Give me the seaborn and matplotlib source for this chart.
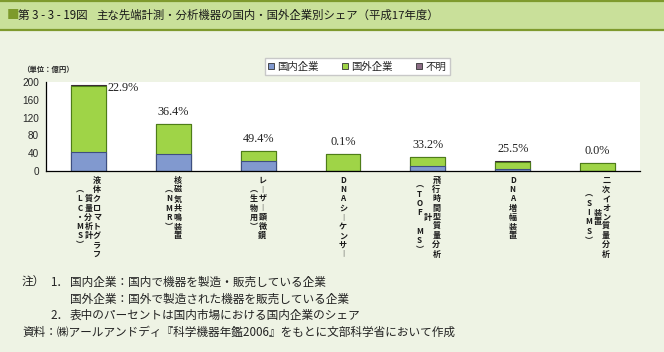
import numpy as np
import pandas as pd
import seaborn as sns
import matplotlib.pyplot as plt
from matplotlib.patches import Patch, Rectangle

# 先端計測・分析機器の国内市場規模（億円）
categories = ['LC/MS', 'NMR', 'Laser', 'DNA-seq', 'TOF-MS', 'DNA-amp', 'SIMS']
domestic = [43.5, 38.0, 22.0, 0.05, 10.4, 3.8, 0.0]
foreign = [147.5, 67.5, 23.0, 37.5, 20.6, 16.0, 18.0]
unknown = [2.5, 0.0, 0.0, 0.0, 0.0, 2.0, 0.0]
share_pct = [22.9, 36.4, 49.4, 0.1, 33.2, 25.5, 0.0]
legend_labels = ['国内企業', '国外企業', '不明']

# 縦書きのx軸ラベル（右の列から順に）
label_columns = [
    ['液体クロマトグラフ', '質量分析計', '︵LC・MS︶'],
    ['核磁気共鳴装置', '︵NMR︶'],
    ['レ︱ザ︱顕微鏡', '︵生物用︶'],
    ['DNAシ︱ケンサ︱'],
    ['飛行時間型質量分析', '計', '︵TOF MS︶'],
    ['DNA増幅装置'],
    ['二次イオン質量分析', '装置', '︵SIMS︶'],
]

title_head = '第 3 - 3 - 19図'
title_body = '主な先端計測・分析機器の国内・国外企業別シェア（平成17年度）'
note_lines = [
    [(22, '注）'), (50, '1．'), (70, '国内企業：国内で機器を製造・販売している企業')],
    [(70, '国外企業：国外で製造された機器を販売している企業')],
    [(50, '2．'), (70, '表中のパーセントは国内市場における国内企業のシェア')],
    [(22, '資料：㈱アールアンドディ『科学機器年鑑2006』をもとに文部科学省において作成')],
]

c_dom, c_for, c_unk = '#8199CF', '#9FD447', '#8C6E86'
e_dom, e_for, e_unk = '#3E4F80', '#4E7D18', '#3A2838'

sns.set_style('white')
plt.rcParams['font.family'] = ['Noto Sans CJK JP', 'DejaVu Sans']

W, H = 664, 352
fig = plt.figure(figsize=(W / 100, H / 100), dpi=100)
fig.patch.set_facecolor('#EEF3E4')

# タイトル帯
fig.add_artist(Rectangle((0, 1 - 31 / H), 1, 31 / H, transform=fig.transFigure,
                         facecolor='#C9E09A', edgecolor='none'))
for yy in (1 - 1 / H, 1 - 30 / H):
    fig.add_artist(plt.Line2D([0, 1], [yy, yy], transform=fig.transFigure,
                              color='#7F9A2E', lw=1.6))
fig.text(7 / W, 1 - 15.5 / H, '■', color='#7D9A2B', fontsize=9, va='center')
fig.text(18 / W, 1 - 15.5 / H, title_head, fontsize=8.3, va='center', color='#1a1a1a')
fig.text(96 / W, 1 - 15.5 / H, title_body, fontsize=8.2, va='center', color='#1a1a1a')

ax = fig.add_axes([46 / W, 1 - 171 / H, 594 / W, 89 / H])
ax.set_facecolor('white')

df = pd.DataFrame({'cat': categories, 'dom': domestic, 'for': foreign, 'unk': unknown})
df['lvl_for'] = df['dom'] + df['for']
df['lvl_all'] = df['lvl_for'] + df['unk']

# 積み上げ：合計から順に重ねて描く
sns.barplot(data=df, x='cat', y='lvl_all', color=c_unk, edgecolor=e_unk,
            linewidth=0.8, width=0.41, saturation=1, ax=ax)
sns.barplot(data=df, x='cat', y='lvl_for', color=c_for, edgecolor=e_for,
            linewidth=0.8, width=0.41, saturation=1, ax=ax)
sns.barplot(data=df, x='cat', y='dom', color=c_dom, edgecolor=e_dom,
            linewidth=0.8, width=0.41, saturation=1, ax=ax)

ax.set_ylim(0, 200)
ax.set_xlim(-0.5, len(categories) - 0.5)
ax.set_yticks(np.arange(0, 201, 40))
ax.set_yticklabels([str(v) for v in range(0, 201, 40)], fontfamily='Liberation Sans', fontsize=7.2)
ax.set_xticks(range(len(categories)))
ax.set_xticklabels([''] * len(categories))
ax.set_xticks(np.arange(0.5, len(categories), 1), minor=True)
ax.tick_params(axis='x', which='major', length=0)
ax.tick_params(axis='x', which='minor', direction='in', length=3, width=0.8, color='black')
ax.tick_params(axis='y', direction='in', length=3, width=0.8, color='black', pad=5)
ax.set_xlabel('')
ax.set_ylabel('')
for s in ('top', 'right'):
    ax.spines[s].set_visible(False)
for s in ('left', 'bottom'):
    ax.spines[s].set_color('black')
    ax.spines[s].set_linewidth(0.9)

# シェアの数値ラベル
for i, (tot, p) in enumerate(zip(df['lvl_all'], share_pct)):
    if tot > 170:
        ax.annotate(f'{p:.1f}%', xy=(i + 0.205, tot), xytext=(1.5, -2),
                    textcoords='offset points', ha='left', va='center',
                    fontfamily='Liberation Serif', fontsize=8.8, color='#222222')
    else:
        ax.annotate(f'{p:.1f}%', xy=(i, tot), xytext=(0, 8.6),
                    textcoords='offset points', ha='center', va='center',
                    fontfamily='Liberation Serif', fontsize=8.8, color='#222222')

# 縦書きラベル
px = 0.72
gap, pitch, top = 8.5 * px, 9.2 * px, 9.5 * px
for i, cols in enumerate(label_columns):
    n = len(cols)
    mid = (len(cols[0]) - 1) / 2
    for j, col in enumerate(cols):
        dx = ((n - 1) / 2 - j) * gap
        for k, ch in enumerate(col):
            if ch == ' ':
                continue
            row = mid - (len(col) - 1) / 2 + k
            ax.annotate(ch, xy=(i, 0), xycoords=ax.get_xaxis_transform(),
                        xytext=(dx, -(top + row * pitch)), textcoords='offset points',
                        ha='center', va='center', fontsize=5.8, fontweight='bold',
                        color='#1a1a1a', annotation_clip=False)

fig.text(22 / W, 1 - 69.5 / H, '（単位：億円）', fontsize=5.3, fontweight='bold', va='center')

handles = [Patch(facecolor=c_dom, edgecolor='#333333', lw=0.6),
           Patch(facecolor=c_for, edgecolor='#333333', lw=0.6),
           Patch(facecolor=c_unk, edgecolor='#333333', lw=0.6)]
leg = fig.legend(handles, legend_labels, loc='center', bbox_to_anchor=(357 / W, 1 - 66.5 / H),
                 ncol=3, frameon=True, fancybox=False, edgecolor='#C8C8C8', facecolor='white',
                 framealpha=1, fontsize=7.5, handlelength=0.6, handleheight=0.6,
                 handletextpad=0.3, columnspacing=2.2, borderpad=0.35)
leg.get_frame().set_linewidth(1.0)

# 注記
for r, parts in enumerate(note_lines):
    y = 1 - (282.3 + r * 16.7) / H
    for x, txt in parts:
        fig.text(x / W, y, txt, fontsize=8.4, va='center', color='#222222')

fig.savefig('out.png', dpi=100, facecolor=fig.get_facecolor())
